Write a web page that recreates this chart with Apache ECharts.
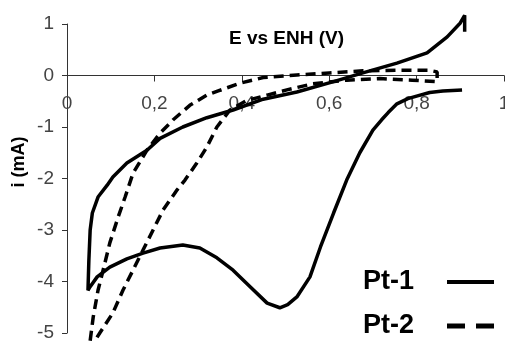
<!DOCTYPE html>
<html>
<head>
<meta charset="utf-8">
<script src="https://cdn.jsdelivr.net/npm/echarts@6/dist/echarts.min.js"></script>
<style>
  html, body { margin: 0; padding: 0; background: #fff; }
  #main { width: 505px; height: 342px; }
</style>
</head>
<body>
<div id="main"></div>
<script>
// Pt-1 : balayage (E en V vs ENH, i en mA)
var pt1E = [0.904, 0.86, 0.83, 0.80, 0.78, 0.755, 0.735, 0.72, 0.70, 0.67, 0.64, 0.61, 0.58, 0.556, 0.526, 0.505,
  0.487, 0.458, 0.419, 0.38, 0.343, 0.304, 0.265, 0.213, 0.174, 0.137, 0.098, 0.069, 0.053, 0.048,
  0.050, 0.053, 0.058, 0.071, 0.092, 0.105, 0.137, 0.183, 0.213, 0.265, 0.32, 0.38, 0.449, 0.526, 0.61,
  0.677, 0.755, 0.824, 0.87, 0.90, 0.91, 0.91];
var pt1I = [-0.28, -0.30, -0.33, -0.40, -0.45, -0.55, -0.72, -0.86, -1.06, -1.5, -2.03, -2.67, -3.33, -3.91, -4.3, -4.45,
  -4.51, -4.42, -4.1, -3.78, -3.54, -3.35, -3.29, -3.35, -3.45, -3.56, -3.72, -3.91, -4.1, -4.17,
  -3.6, -3.0, -2.67, -2.36, -2.13, -1.97, -1.70, -1.45, -1.22, -1.0, -0.82, -0.67, -0.46, -0.32, -0.12,
  0.05, 0.24, 0.44, 0.75, 1.02, 1.17, 0.85];

// Pt-2
var pt2E = [0.053, 0.06, 0.071, 0.085, 0.098, 0.117, 0.133, 0.151, 0.183, 0.213, 0.243, 0.281, 0.32, 0.346, 0.396,
  0.449, 0.526, 0.60, 0.677, 0.755, 0.83, 0.847, 0.847, 0.79, 0.716, 0.64, 0.563, 0.503, 0.458, 0.41, 0.373,
  0.343, 0.32, 0.297, 0.27, 0.252, 0.22, 0.197, 0.174, 0.151, 0.128, 0.105, 0.075, 0.064];
var pt2I = [-5.15, -4.69, -4.17, -3.7, -3.25, -2.75, -2.36, -1.9, -1.45, -1.12, -0.86, -0.58, -0.38, -0.30, -0.15,
  -0.04, 0.01, 0.05, 0.09, 0.10, 0.10, 0.07, -0.12, -0.09, -0.06, -0.09, -0.16, -0.28, -0.38, -0.49, -0.67,
  -1.0, -1.39, -1.7, -2.03, -2.22, -2.61, -3.0, -3.39, -3.78, -4.17, -4.61, -5.0, -5.15];

var seriesNames = ['Pt-1', 'Pt-2'];
var yMin = -5, yMax = 1;

function zip(a, b) {
  return a.map(function (v, i) { return [v, b[i]]; });
}

var chartDom = document.getElementById('main');
var myChart = echarts.init(chartDom);

// grille fixe, l'axe des x est remonté jusqu'à i = 0
var gridTop = 24, gridBottom = 9;
var gridH = 342 - gridTop - gridBottom;
var xAxisShift = -(gridH * (0 - yMin) / (yMax - yMin));

var axisFont = { fontFamily: 'Liberation Sans', fontSize: 19, color: '#444' };

var option = {
  animation: false,
  title: {
    text: 'E vs ENH (V)',
    left: 229,
    top: 29,
    padding: 0,
    textStyle: { fontFamily: 'Liberation Sans', fontSize: 19, fontWeight: 'bold', color: '#000' }
  },
  grid: {
    left: 67, right: 1, top: gridTop, bottom: gridBottom,
    containLabel: false,
    outerBoundsMode: 'none'
  },
  legend: {
    orient: 'vertical',
    left: 363,
    top: 268,
    padding: 0,
    align: 'right',
    itemWidth: 47,
    itemHeight: 28,
    itemGap: 16,
    itemStyle: { opacity: 0 },
    textStyle: {
      fontFamily: 'Liberation Sans', fontSize: 27, fontWeight: 'bold', color: '#000',
      lineHeight: 28,
      padding: [0, 28, 0, 0]
    },
    data: [
      { name: seriesNames[0], lineStyle: { width: 4 }, itemStyle: { opacity: 0 } },
      { name: seriesNames[1], lineStyle: { width: 5, type: [18, 11] }, itemStyle: { opacity: 0 } }
    ]
  },
  xAxis: {
    type: 'value',
    min: 0,
    max: 1,
    interval: 0.2,
    offset: xAxisShift,
    splitLine: { show: false },
    axisLine: { onZero: false, lineStyle: { color: '#333', width: 1 } },
    axisTick: { show: true, length: 6, lineStyle: { color: '#333' } },
    axisLabel: Object.assign({
      margin: 19,
      formatter: function (v) { return String(+v.toFixed(1)).replace('.', ','); }
    }, axisFont)
  },
  yAxis: {
    type: 'value',
    min: yMin,
    max: yMax,
    interval: 1,
    splitLine: { show: false },
    axisLine: { show: true, onZero: false, lineStyle: { color: '#333', width: 1 } },
    axisTick: { show: true, length: 5, lineStyle: { color: '#333' } },
    axisLabel: Object.assign({ margin: 13 }, axisFont)
  },
  graphic: [{
    type: 'text',
    x: 19,
    y: 162,
    rotation: Math.PI / 2,
    style: {
      text: 'i (mA)',
      fontFamily: 'Liberation Sans',
      fontSize: 18,
      fontWeight: 'bold',
      fill: '#000',
      align: 'center',
      verticalAlign: 'middle'
    }
  }],
  series: [
    {
      name: seriesNames[0],
      type: 'line',
      symbol: 'none',
      clip: false,
      lineStyle: { color: '#000', width: 3.5 },
      itemStyle: { color: '#000' },
      data: zip(pt1E, pt1I)
    },
    {
      name: seriesNames[1],
      type: 'line',
      symbol: 'none',
      clip: false,
      lineStyle: { color: '#000', width: 3.5, type: [10, 6] },
      itemStyle: { color: '#000' },
      data: zip(pt2E, pt2I)
    }
  ]
};

option && myChart.setOption(option);
</script>
</body>
</html>
